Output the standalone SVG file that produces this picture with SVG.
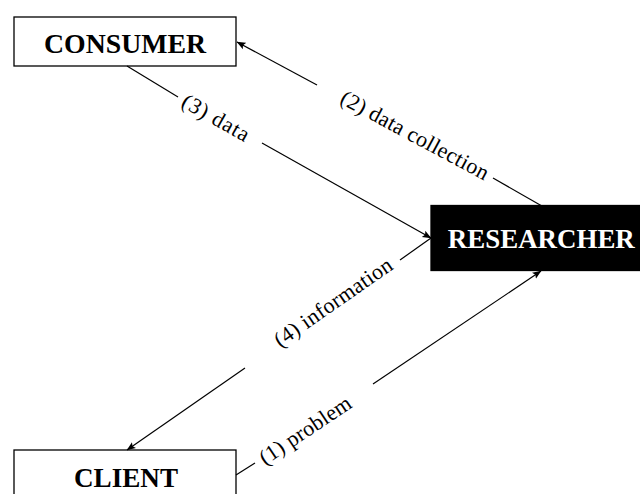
<svg xmlns="http://www.w3.org/2000/svg" width="640" height="494" viewBox="0 0 640 494">
<style>
.box{fill:#fff;stroke:#000;stroke-width:1.3}
.dark{fill:#000;stroke:#000;stroke-width:1.3}
.title{font-family:"Liberation Serif","Times New Roman",serif;font-weight:bold;font-size:27.5px;text-anchor:middle;fill:#000}
.lbl{font-family:"Liberation Serif","Times New Roman",serif;font-size:22px;text-anchor:middle;dominant-baseline:central;fill:#000}
.edge{stroke:#000;stroke-width:1.2;fill:none}
</style>
<defs>
<marker id="arr" viewBox="0 0 10 10" refX="9.5" refY="5" markerWidth="9" markerHeight="9" markerUnits="userSpaceOnUse" orient="auto">
<path d="M0,1 L10,5 L0,9 L2,5 Z" fill="#000"/>
</marker>
</defs>
<rect width="640" height="494" fill="#fff"/>
<g id="consumer">
<rect class="box" x="14" y="17" width="222" height="49"/>
<text class="title" x="125" y="52.5" textLength="162" lengthAdjust="spacingAndGlyphs">CONSUMER</text>
</g>
<g id="researcher">
<rect class="dark" x="431" y="205.5" width="220" height="65"/>
<text class="title" x="541.3" y="248" style="fill:#fff" textLength="187" lengthAdjust="spacingAndGlyphs">RESEARCHER</text>
</g>
<g id="client">
<rect class="box" x="14" y="450" width="222" height="49"/>
<text class="title" x="126" y="486.5" textLength="104" lengthAdjust="spacingAndGlyphs">CLIENT</text>
</g>
<g id="connectors">
<line class="edge" x1="541" y1="205.5" x2="493" y2="178"/>
<line class="edge" x1="317" y1="85" x2="237" y2="42" marker-end="url(#arr)"/>
<text class="lbl" transform="translate(415,135) rotate(28.2)" textLength="165" lengthAdjust="spacing">(2) data collection</text>
<line class="edge" x1="127" y1="66" x2="178" y2="97"/>
<line class="edge" x1="262" y1="143" x2="431" y2="238" marker-end="url(#arr)"/>
<text class="lbl" transform="translate(216,117.5) rotate(29.5)" textLength="74" lengthAdjust="spacing">(3) data</text>
<line class="edge" x1="431" y1="238" x2="400" y2="260"/>
<line class="edge" x1="245" y1="368" x2="127" y2="450" marker-end="url(#arr)"/>
<text class="lbl" transform="translate(333,302) rotate(-34.9)" textLength="139" lengthAdjust="spacing">(4) information</text>
<line class="edge" x1="236" y1="475" x2="255" y2="463"/>
<line class="edge" x1="373" y1="384" x2="541" y2="271" marker-end="url(#arr)"/>
<text class="lbl" transform="translate(305,430) rotate(-33.8)" textLength="106" lengthAdjust="spacing">(1) problem</text>
</g>
</svg>
